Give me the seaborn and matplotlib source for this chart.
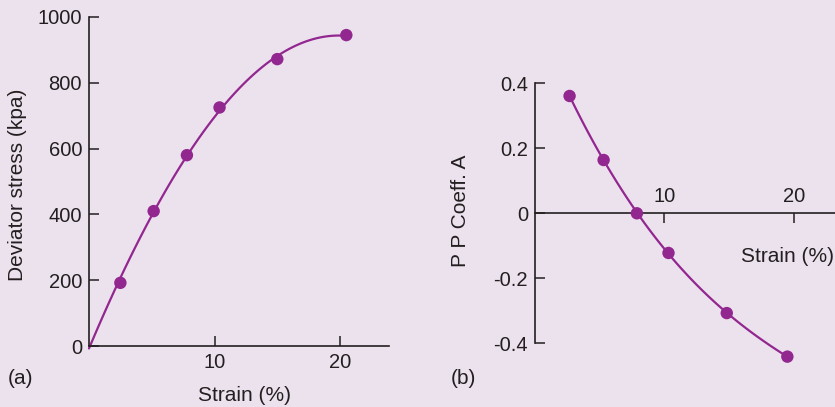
import matplotlib
matplotlib.use("Agg")
import matplotlib.pyplot as plt
import seaborn as sns

# ---- data ----
# panel (a): deviator stress vs strain (first point is the origin the curve starts from)
strain_a = [0.0, 2.5, 5.15, 7.8, 10.4, 15.0, 20.5]
stress_a = [0, 192, 410, 580, 725, 872, 945]
# panel (b): pore pressure coefficient A vs strain
strain_b = [2.67, 5.30, 7.87, 10.31, 14.81, 19.49]
coeff_b = [0.361, 0.164, 0.0, -0.122, -0.307, -0.441]

xticks = [10, 20]
yticks_a = [0, 200, 400, 600, 800, 1000]
yticks_b = [-0.4, -0.2, 0, 0.2, 0.4]
yticklabels_b = ["-0.4", "-0.2", "0", "0.2", "0.4"]

BG = "#ECE2EE"
PURPLE = "#92278F"
INK = "#231F20"

sns.set_theme(style="ticks", rc={"axes.facecolor": BG, "figure.facecolor": BG})
plt.rcParams["font.family"] = ["Liberation Sans", "DejaVu Sans"]

W, H = 835, 407
fig = plt.figure(figsize=(W / 100, H / 100), dpi=100, facecolor=BG)


def px_axes(x0, y_top, x1, y_bot):
    return fig.add_axes([x0 / W, 1 - y_bot / H, (x1 - x0) / W, (y_bot - y_top) / H])


ax1 = px_axes(89, 17, 389, 346)
ax2 = px_axes(535, 83.3, 835, 343.3)

for ax in (ax1, ax2):
    ax.set_facecolor(BG)
    ax.patch.set_alpha(0)

# ---- panel (a) ----
sns.regplot(x=strain_a, y=stress_a, order=3, ci=None, scatter=False, truncate=True,
            color=PURPLE, line_kws=dict(lw=1.6, clip_on=False), ax=ax1)
sns.scatterplot(x=strain_a[1:], y=stress_a[1:], s=80, color=PURPLE, edgecolor="none",
                ax=ax1, clip_on=False, zorder=3)
ax1.set_xlim(0, 23.9)
ax1.set_ylim(0, 1000)
ax1.set_xticks(xticks)
ax1.set_yticks(yticks_a)
for s in ("top", "right"):
    ax1.spines[s].set_visible(False)
for s in ("left", "bottom"):
    ax1.spines[s].set_color(INK)
    ax1.spines[s].set_linewidth(1.2)
ax1.tick_params(direction="in", length=7.5, width=1.1, color=INK, labelcolor=INK,
                labelsize=14.5, pad=5)
ax1.set_xlabel("Strain (%)", fontsize=15, color=INK, va="center", ha="center")
ax1.xaxis.set_label_coords(0.52, -0.149)
ax1.set_ylabel("Deviator stress (kpa)", fontsize=15, color=INK, va="center", ha="center")
ax1.yaxis.set_label_coords(-0.237, 0.489)

# ---- panel (b) ----
sns.regplot(x=strain_b, y=coeff_b, order=3, ci=None, scatter=False, truncate=True,
            color=PURPLE, line_kws=dict(lw=1.6, clip_on=False), ax=ax2)
sns.scatterplot(x=strain_b, y=coeff_b, s=80, color=PURPLE, edgecolor="none",
                ax=ax2, clip_on=False, zorder=3)
ax2.set_xlim(0, 23.17)
ax2.set_ylim(-0.4, 0.4)
ax2.set_xticks(xticks)
ax2.set_yticks(yticks_b)
ax2.set_yticklabels(yticklabels_b)
ax2.spines["bottom"].set_visible(False)
ax2.spines["right"].set_visible(False)
ax2.spines["top"].set_position(("data", 0))
for s in ("left", "top"):
    ax2.spines[s].set_color(INK)
    ax2.spines[s].set_linewidth(1.2)
ax2.xaxis.set_ticks_position("top")
ax2.tick_params(axis="x", direction="in", length=7.5, width=1.1, color=INK,
                labelcolor=INK, labelsize=14.5, pad=5, top=True, labeltop=True,
                bottom=False, labelbottom=False)
ax2.tick_params(axis="y", direction="in", length=7.5, width=1.1, color=INK,
                labelcolor=INK, labelsize=14.5, pad=5)
ax2.set_xlabel("Strain (%)", fontsize=15, color=INK, va="center", ha="center")
ax2.xaxis.set_label_position("bottom")
ax2.xaxis.set_label_coords(0.843, 0.370)
ax2.set_ylabel("P P Coeff. A", fontsize=15, color=INK, va="center", ha="center")
ax2.yaxis.set_label_coords(-0.247, 0.509)

fig.text(8 / W, 1 - 378 / H, "(a)", fontsize=15, color=INK, ha="left", va="center")
fig.text(451 / W, 1 - 378 / H, "(b)", fontsize=15, color=INK, ha="left", va="center")

fig.savefig("out.png", dpi=100, facecolor=BG)
